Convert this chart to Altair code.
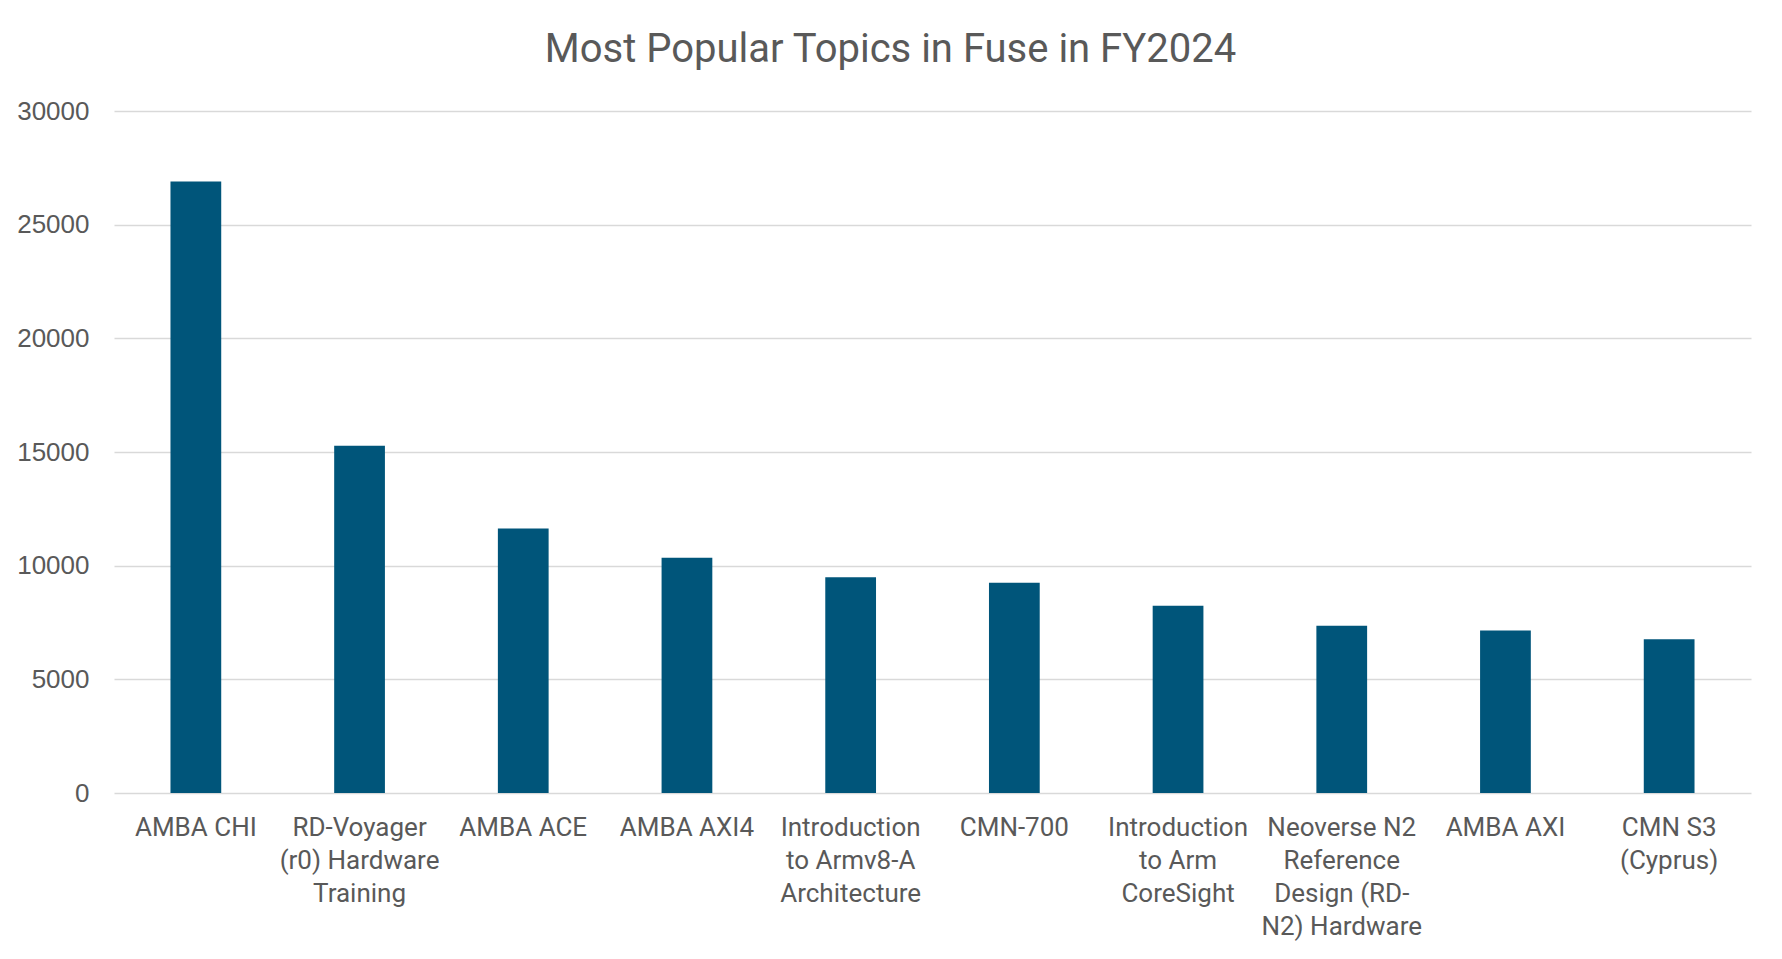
import json
import altair as alt
import pandas as pd

categories = [
    "AMBA CHI",
    "RD-Voyager (r0) Hardware Training",
    "AMBA ACE",
    "AMBA AXI4",
    "Introduction to Armv8-A Architecture",
    "CMN-700",
    "Introduction to Arm CoreSight",
    "Neoverse N2 Reference Design (RD-N2) Hardware",
    "AMBA AXI",
    "CMN S3 (Cyprus)",
]
values = [26900, 15280, 11630, 10350, 9490, 9250, 8240, 7360, 7150, 6760]
tick_labels = [
    ["AMBA CHI"],
    ["RD-Voyager", "(r0) Hardware", "Training"],
    ["AMBA ACE"],
    ["AMBA AXI4"],
    ["Introduction", "to Armv8-A", "Architecture"],
    ["CMN-700"],
    ["Introduction", "to Arm", "CoreSight"],
    ["Neoverse N2", "Reference", "Design (RD-", "N2) Hardware"],
    ["AMBA AXI"],
    ["CMN S3", "(Cyprus)"],
]
y_ticks = [0, 5000, 10000, 15000, 20000, 25000, 30000]

df = pd.DataFrame({"topic": categories, "count": values})

lookup = json.dumps(dict(zip(categories, tick_labels)))
label_expr = f"{lookup}[datum.value]"

TEXT = "#595959"

chart = (
    alt.Chart(df)
    .mark_bar(color="#00557A")
    .encode(
        x=alt.X(
            "topic:N",
            sort=categories,
            title=None,
            scale=alt.Scale(paddingInner=0.69, paddingOuter=0.345),
            axis=alt.Axis(
                labelAngle=0,
                labelExpr=label_expr,
                labelFont="Roboto",
                labelFontSize=26,
                labelLineHeight=33,
                labelColor=TEXT,
                labelPadding=21,
                labelBaseline="top",
                labelLimit=300,
                domain=False,
                ticks=False,
                grid=False,
            ),
        ),
        y=alt.Y(
            "count:Q",
            title=None,
            scale=alt.Scale(domain=[0, 30000], nice=False),
            axis=alt.Axis(
                values=y_ticks,
                format="d",
                labelFont="Liberation Sans",
                labelFontSize=26,
                labelColor=TEXT,
                labelPadding=25,
                domain=False,
                ticks=False,
                gridColor="#D9D9D9",
                gridWidth=1.3,
            ),
        ),
    )
    .properties(
        width=1637,
        height=682,
        title=alt.TitleParams(
            "Most Popular Topics in Fuse in FY2024",
            font="Roboto",
            fontSize=40,
            fontWeight="normal",
            color=TEXT,
            anchor="middle",
            offset=28,
            dx=-42,
        ),
        padding={"left": 8, "top": 22, "right": 5, "bottom": 5},
    )
    .configure(background="white")
    .configure_view(strokeWidth=0, stroke="transparent")
)

chart.save("out.html", embed_options={"renderer": "svg", "actions": False})
